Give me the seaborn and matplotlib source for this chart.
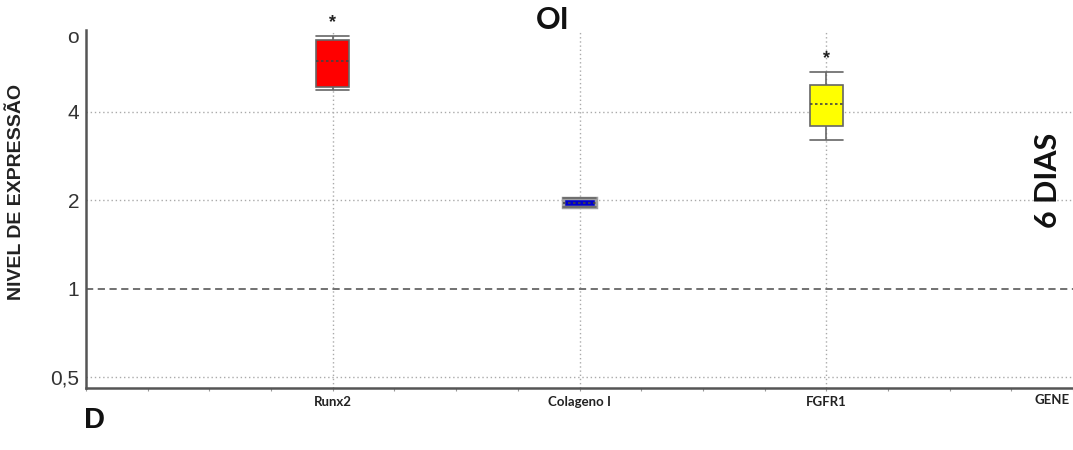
import matplotlib
matplotlib.use("Agg")
import matplotlib.pyplot as plt
import seaborn as sns
import pandas as pd
import numpy as np
from matplotlib.ticker import FixedLocator, MultipleLocator

# ---- data ----
genes = ["Runx2", "Colageno I", "FGFR1"]
runx2_vals = [4.75, 4.87, 5.96, 7.03, 7.25]
colageno_vals = [1.90, 1.90, 1.96, 2.03, 2.03]
fgfr1_vals = [3.21, 3.58, 4.25, 4.92, 5.46]
significant = ["Runx2", "FGFR1"]
box_colors = {"Runx2": "#ff0000", "Colageno I": "#0000cc", "FGFR1": "#ffff00"}
ytick_vals = [0.5, 1, 2, 4, 7.3]
ytick_labels = ["0,5", "1", "2", "4", "o"]

df = pd.DataFrame({
    "gene": [genes[0]] * len(runx2_vals) + [genes[1]] * len(colageno_vals) + [genes[2]] * len(fgfr1_vals),
    "value": runx2_vals + colageno_vals + fgfr1_vals,
})

sns.set_theme(style="white")
plt.rcParams["font.family"] = ["Liberation Sans", "DejaVu Sans"]

fig = plt.figure(figsize=(10.73, 4.5), dpi=100)
ax = fig.add_axes([86 / 1073, 1 - 388 / 450, 1 - 86 / 1073, (388 - 30) / 450])

bw = 0.133
sns.boxplot(data=df, x="gene", y="value", hue="gene", order=genes, hue_order=genes,
            palette=box_colors, saturation=1, width=bw, log_scale=2, whis=1.5,
            linecolor="#666666", linewidth=1.2, legend=False, ax=ax, capwidths=bw,
            medianprops=dict(linestyle=(0, (1.5, 1.5)), color="#444444", linewidth=1.2),
            zorder=3)

# Colageno box: thick light gray edge
for p in ax.patches:
    fc = p.get_facecolor()
    if fc[2] > 0.7 and fc[0] < 0.2:
        p.set_edgecolor("#a0a0a0")
        p.set_linewidth(2.5)

ax.set_xlim(-1, 3)
ax.set_ylim(0.459, 7.6)

# grid lines
for v in [0.5, 2, 4]:
    ax.axhline(v, color="#aaaaaa", linestyle=(0, (1, 2)), linewidth=1.0, zorder=1)
for i in range(len(genes)):
    ax.axvline(i, color="#aaaaaa", linestyle=(0, (1, 2)), linewidth=1.0, zorder=1)
ax.axhline(1, color="#666666", linestyle=(0, (4, 2.5)), linewidth=1.3, zorder=2)

# significance markers
for g in significant:
    i = genes.index(g)
    top = df.loc[df.gene == g, "value"].max()
    ax.text(i, top * 1.11, "*", ha="center", va="center", fontsize=13,
            fontweight="bold", color="#222222", zorder=4)

# axes styling
for s in ["top", "right"]:
    ax.spines[s].set_visible(False)
for s in ["left", "bottom"]:
    ax.spines[s].set_color("#555555")
    ax.spines[s].set_linewidth(1.8)

ax.yaxis.set_major_locator(FixedLocator(ytick_vals))
ax.yaxis.set_minor_locator(FixedLocator([]))
ax.set_yticklabels(ytick_labels)
ax.tick_params(axis="y", length=0, pad=5, labelsize=15, colors="#333333")
for t in ax.get_yticklabels():
    t.set_family(["Liberation Sans Narrow", "Liberation Sans", "DejaVu Sans"])

ax.set_xticks(range(len(genes)))
ax.set_xticklabels(genes)
ax.xaxis.set_minor_locator(MultipleLocator(0.25))
ax.tick_params(axis="x", which="both", length=2.5, width=0.8, color="#999999",
               direction="out", pad=3, labelsize=9.5, labelcolor="#222222", bottom=True)
for t in ax.get_xticklabels():
    t.set_family(["Lato", "DejaVu Sans"])
    t.set_fontweight("bold")
ax.set_xlabel("")
ax.set_ylabel("")

# extra texts
fig.text(1070 / 1073, 1 - 400 / 450, "GENE", ha="right", va="center", fontsize=9.5,
         fontweight="bold", family=["Lato", "DejaVu Sans"], color="#222222")
fig.text(553 / 1073, 1 - 20 / 450, "OI", ha="center", va="center", fontsize=22,
         fontweight="bold", family=["Lato", "DejaVu Sans"], color="#111111")
fig.text(1048 / 1073, 1 - 180 / 450, "6 DIAS", ha="center", va="center", rotation=90,
         fontsize=22, fontweight="bold", family=["Lato", "DejaVu Sans"], color="#111111")
fig.text(95 / 1073, 1 - 420 / 450, "D", ha="center", va="center", fontsize=21,
         fontweight="bold", color="#111111")
fig.text(17 / 1073, 1 - 192 / 450, "NIVEL DE EXPRESSÃO", ha="center", va="center",
         rotation=90, fontsize=14, fontweight="bold", color="#222222")

fig.savefig("out.png", dpi=100)
